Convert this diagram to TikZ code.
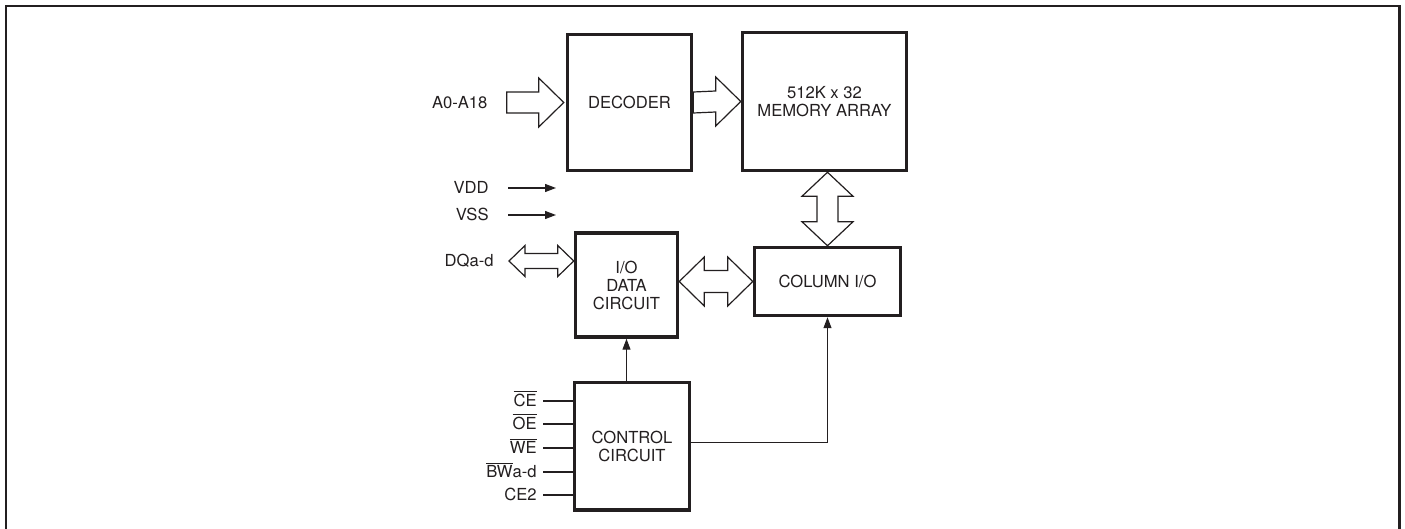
\documentclass[tikz,border=0pt]{standalone}
\usepackage{fontspec}
\setmainfont{TeX Gyre Heros}
\usepackage{tikz}
\usetikzlibrary{positioning, arrows.meta, calc}
\definecolor{Ink}{HTML}{231F20}

% fat bus arrows: #1 start/left/top, #2 tip/right/bottom
\newcommand{\busarrow}[2]{%
  \draw[bus] ($#1+(0,-10.5)$) -- ($#2+(-25,-10.5)$) -- ($#2+(-25,-24.5)$) -- #2
    -- ($#2+(-25,24.5)$) -- ($#2+(-25,10.5)$) -- ($#1+(0,10.5)$) -- cycle;}
\newcommand{\busboth}[5]{%
  \draw[bus] #1 -- ($#1+(#3,-#5)$) -- ($#1+(#3,-#4)$) -- ($#2+(-#3,-#4)$)
    -- ($#2+(-#3,-#5)$) -- #2 -- ($#2+(-#3,#5)$) -- ($#2+(-#3,#4)$)
    -- ($#1+(#3,#4)$) -- ($#1+(#3,#5)$) -- cycle;}
\newcommand{\busvert}[5]{%
  \draw[bus] #1 -- ($#1+(#5,#3)$) -- ($#1+(#4,#3)$) -- ($#2+(#4,-#3)$)
    -- ($#2+(#5,-#3)$) -- #2 -- ($#2+(-#5,-#3)$) -- ($#2+(-#4,-#3)$)
    -- ($#1+(-#4,#3)$) -- ($#1+(-#5,#3)$) -- cycle;}

\begin{document}
\begin{tikzpicture}[x=0.5pt, y=-0.5pt,
    blk/.style={draw=Ink, line width=1.75pt, fill=white, align=center,
      inner sep=0pt, text=Ink, font=\fontsize{8.3}{9}\selectfont},
    lbl/.style={inner sep=1pt, text height=6pt, text depth=0pt, text=Ink,
      font=\fontsize{8.3}{9}\selectfont},
    bus/.style={draw=Ink, line width=0.6pt, fill=white, line join=miter},
    sig/.style={draw=Ink, line width=0.6pt, -{Triangle[length=5.5pt, width=4pt]}},
    wire/.style={draw=Ink, line width=0.6pt},
    frame/.style={draw=Ink, line width=1.2pt}]
  \useasboundingbox (0,0) rectangle (1405,529);
  % ── outer frame (open at the bottom) ──────────────────────────────────────
  \draw[frame] (6,540) -- (6,6) -- (1399.5,6) -- (1399.5,540);

  % ── blocks ──────────────────────────────────────────────────────────────
  \node[blk, minimum width=62pt, minimum height=68pt] (dec) at (629.5,102.5) {DECODER};
  \node[blk, minimum width=82pt, minimum height=69pt] (mem) at (824.5,101.5)
    {512K x 32\\MEMORY ARRAY};
  \node[blk, minimum width=73pt, minimum height=34pt] (col) at (827.5,281.5) {COLUMN I/O};
  \node[blk, minimum width=51pt, minimum height=52pt] (io) at (626.5,285)
    {I/O\\DATA\\CIRCUIT};
  \node[blk, minimum width=57.5pt, minimum height=63.75pt] (ctrl) at (632,446.5)
    {CONTROL\\CIRCUIT};

  % ── pin labels ──────────────────────────────────────────────────────────
  \node[lbl, left=38pt of dec.west] (addr) {A0-A18};
  \node[lbl, anchor=east] (vdd) at (491,188) {VDD};
  \node[lbl, anchor=east] (vss) at (491,215) {VSS};
  \node[lbl, anchor=east] (dq) at (496,261) {DQa-d};
  \coordinate (vddend) at (556,188);
  \coordinate (vssend) at (556,215);

  % ── bus arrows ──────────────────────────────────────────────────────────
  \busarrow{([xshift=8.5pt]addr.east)}{([xshift=-1pt]dec.west)}
  \busarrow{(dec.east)}{(mem.west)}
  \busboth{([xshift=6.5pt]dq.east)}{(io.west |- dq.east)}{16}{7.5}{15.5}
  \busboth{(io.east |- col.west)}{(col.west)}{25}{11}{24.5}
  \busvert{(mem.south -| col.north)}{(col.north)}{24}{10.5}{25.5}

  % ── single lines ────────────────────────────────────────────────────────
  \draw[sig] ([xshift=8.5pt]vdd.east) -- (vddend);
  \draw[sig] ([xshift=8.5pt]vss.east) -- (vssend);
  \draw[sig] (io.south |- ctrl.north) -- (io.south);
  \draw[sig] ([yshift=2pt]ctrl.east) -| (col.south);

  % ── control inputs ──────────────────────────────────────────────────────
  \foreach \n/\t/\y in {ce/{$\overline{\mbox{CE}}$}/401, oe/{$\overline{\mbox{OE}}$}/424,
      we/{$\overline{\mbox{WE}}$}/448, bw/{$\overline{\mbox{BW}}$a-d}/472, cetwo/{CE2}/495} {
    \node[lbl, anchor=east] (\n) at (539,\y) {\t};
    \draw[wire] ([xshift=2pt]\n.east) -- (\n.east -| ctrl.west);
  }
\end{tikzpicture}
\end{document}
